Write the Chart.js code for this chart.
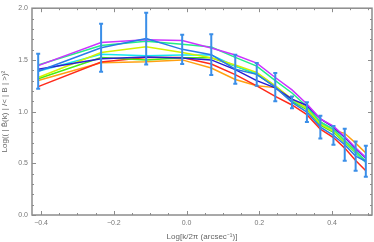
<!DOCTYPE html>
<html>
<head>
<meta charset="utf-8">
<script src="https://cdn.jsdelivr.net/npm/chart.js@4.4.1/dist/chart.umd.min.js"></script>
<style>
  html, body { margin: 0; padding: 0; background: #fff; }
</style>
</head>
<body>
<canvas id="chart" width="374" height="242"></canvas>
<script>
// x positions: Log[k/2pi]
const logK = [-0.408, -0.235, -0.111, -0.012, 0.068, 0.134, 0.193, 0.244, 0.290, 0.331, 0.368, 0.404, 0.435, 0.465, 0.493];

// one curve per colour
const magenta = [1.445, 1.668, 1.694, 1.688, 1.615, 1.548, 1.469, 1.330, 1.210, 1.074, 0.930, 0.860, 0.760, 0.650, 0.555];
const spring  = [1.450, 1.640, 1.680, 1.652, 1.625, 1.525, 1.440, 1.300, 1.180, 1.050, 0.900, 0.830, 0.720, 0.620, 0.520];
const azure   = [1.390, 1.618, 1.706, 1.602, 1.550, 1.410, 1.360, 1.237, 1.090, 0.995, 0.850, 0.770, 0.680, 0.570, 0.520];
const yellow  = [1.330, 1.571, 1.627, 1.571, 1.520, 1.450, 1.380, 1.250, 1.120, 1.030, 0.880, 0.810, 0.710, 0.610, 0.520];
const cyan    = [1.390, 1.555, 1.540, 1.548, 1.548, 1.440, 1.370, 1.250, 1.110, 1.030, 0.890, 0.810, 0.710, 0.600, 0.510];
const green   = [1.318, 1.523, 1.500, 1.520, 1.520, 1.440, 1.360, 1.240, 1.100, 1.020, 0.870, 0.800, 0.700, 0.600, 0.510];
const navy    = [1.410, 1.510, 1.529, 1.519, 1.500, 1.406, 1.300, 1.230, 1.121, 1.059, 0.930, 0.850, 0.750, 0.640, 0.550];
const orange  = [1.300, 1.472, 1.482, 1.500, 1.422, 1.311, 1.250, 1.232, 1.100, 1.040, 0.900, 0.820, 0.790, 0.695, 0.600];
const red     = [1.242, 1.479, 1.523, 1.523, 1.460, 1.358, 1.248, 1.147, 1.064, 0.970, 0.830, 0.749, 0.647, 0.528, 0.427];

// half-height of the error bars on the azure curve
const azureErr = [0.170, 0.232, 0.250, 0.142, 0.197, 0.140, 0.110, 0.137, 0.057, 0.095, 0.110, 0.090, 0.155, 0.142, 0.150];

const xTicks = [-0.4, -0.2, 0, 0.2, 0.4];
const yTicks = [0, 0.5, 1, 1.5, 2];

function pts(arr) {
  return arr.map((v, i) => ({ x: logK[i], y: v }));
}

function line(data, color, extra) {
  return Object.assign({
    data: pts(data),
    borderColor: color,
    borderWidth: 1.5,
    pointRadius: 0,
    fill: false,
    tension: 0
  }, extra || {});
}

// error bars on the azure dataset
const errorBars = {
  id: 'errorBars',
  afterDatasetsDraw(chart) {
    const ctx = chart.ctx;
    const xs = chart.scales.x, ys = chart.scales.y;
    ctx.save();
    ctx.strokeStyle = '#3a8ee8';
    ctx.lineWidth = 2;
    azure.forEach((v, i) => {
      const px = xs.getPixelForValue(logK[i]);
      const top = ys.getPixelForValue(v + azureErr[i]);
      const bot = ys.getPixelForValue(v - azureErr[i]);
      ctx.beginPath();
      ctx.moveTo(px, top); ctx.lineTo(px, bot);
      ctx.moveTo(px - 2, top); ctx.lineTo(px + 2, top);
      ctx.moveTo(px - 2, bot); ctx.lineTo(px + 2, bot);
      ctx.stroke();
    });
    ctx.restore();
  }
};

// mathematica style frame with inward ticks
const frame = {
  id: 'frame',
  afterDraw(chart) {
    const ctx = chart.ctx;
    const a = chart.chartArea;
    const xs = chart.scales.x, ys = chart.scales.y;
    ctx.save();
    ctx.strokeStyle = '#8c8c8c';
    ctx.lineWidth = 1;
    for (let v = -0.4; v <= 0.51; v += 0.05) {
      const px = Math.round(xs.getPixelForValue(v)) + 0.5;
      const major = Math.abs(Math.round(v * 10) - v * 10) < 0.01 && Math.round(v * 10) % 2 === 0;
      const len = major ? 4 : 2;
      ctx.beginPath();
      ctx.moveTo(px, a.bottom); ctx.lineTo(px, a.bottom - len);
      ctx.moveTo(px, a.top); ctx.lineTo(px, a.top + len);
      ctx.stroke();
    }
    for (let v = 0; v <= 2.001; v += 0.1) {
      const py = Math.round(ys.getPixelForValue(v)) + 0.5;
      const major = Math.round(v * 10) % 5 === 0;
      const len = major ? 4 : 2;
      ctx.beginPath();
      ctx.moveTo(a.left, py); ctx.lineTo(a.left + len, py);
      ctx.moveTo(a.right, py); ctx.lineTo(a.right - len, py);
      ctx.stroke();
    }
    ctx.lineWidth = 1.5;
    ctx.strokeRect(a.left, a.top, a.right - a.left, a.bottom - a.top);
    ctx.restore();
  }
};

const fmt = v => v.toFixed(1).replace('-', '\u2212');

new Chart(document.getElementById('chart'), {
  type: 'line',
  data: {
    datasets: [
      line(azure, '#2a7ae8'),
      line(magenta, '#cc33ff'),
      line(navy, '#2a1ed0'),
      line(spring, '#22ee88'),
      line(yellow, '#d4f000'),
      line(cyan, '#11e8f0'),
      line(green, '#44ee11'),
      line(red, '#ff2a1a'),
      line(orange, '#ffa010')
    ]
  },
  options: {
    responsive: false,
    animation: false,
    parsing: true,
    layout: { padding: { top: 4, right: 2, left: 0, bottom: 0 } },
    plugins: {
      legend: { display: false },
      tooltip: { enabled: false }
    },
    scales: {
      x: {
        type: 'linear',
        min: -0.425,
        max: 0.51,
        afterBuildTicks: s => { s.ticks = xTicks.map(v => ({ value: v })); },
        afterFit: s => { s.height = 27; },
        grid: { display: false, drawTicks: false },
        border: { display: false },
        ticks: {
          color: '#777',
          font: { family: 'Liberation Sans', size: 7 },
          padding: 4,
          maxRotation: 0,
          callback: v => fmt(v)
        },
        title: {
          display: true,
          text: 'Log[k/2\u03c0 (arcsec\u207b\u00b9)]',
          color: '#666',
          font: { family: 'Liberation Sans', size: 8 },
          padding: { top: 1, bottom: 0 }
        }
      },
      y: {
        min: 0,
        max: 2,
        afterBuildTicks: s => { s.ticks = yTicks.map(v => ({ value: v })); },
        afterFit: s => { s.width = 32; },
        grid: { display: false, drawTicks: false },
        border: { display: false },
        ticks: {
          color: '#777',
          font: { family: 'Liberation Sans', size: 7 },
          padding: 4,
          callback: v => fmt(v)
        },
        title: {
          display: true,
          text: 'Log(( | B\u0302(k) | /< | B | >)\u00b2',
          color: '#666',
          font: { family: 'Liberation Sans', size: 8 },
          padding: 0
        }
      }
    }
  },
  plugins: [errorBars, frame]
});
</script>
</body>
</html>
